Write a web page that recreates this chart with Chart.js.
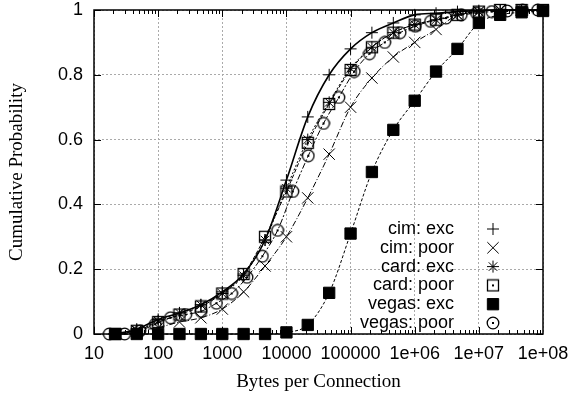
<!DOCTYPE html>
<html>
<head>
<meta charset="utf-8">
<script src="https://cdn.jsdelivr.net/npm/chart.js@4.4.0/dist/chart.umd.min.js"></script>
<style>
  html, body { margin: 0; padding: 0; background: #fff; }
</style>
</head>
<body>
<canvas id="cdf" width="573" height="397"></canvas>
<script>
// sample points, one third of a decade apart (cim / card / vegas exc)
const xThird = [21.5, 46.4, 100, 215, 464, 1000, 2150, 4640, 10000, 21500, 46400,
  1e5, 2.15e5, 4.64e5, 1e6, 2.15e6, 4.64e6, 1e7, 2.15e7, 4.64e7, 1e8];
// vegas poor is sampled more densely
const xRoot3 = [17.3, 30, 52, 90, 156, 270, 468, 810, 1400, 2430, 4210, 7290, 12600,
  21900, 37900, 65600, 114000, 197000, 341000, 591000, 1.02e6, 1.77e6, 3.07e6,
  5.31e6, 9.2e6, 1.59e7, 2.76e7, 4.78e7, 8.28e7];

const cimExc   = [0, 0.015, 0.045, 0.065, 0.09, 0.13, 0.185, 0.29, 0.475, 0.67, 0.80,
  0.88, 0.93, 0.96, 0.985, 0.99, 0.995, 0.998, 1, 1, 1];
const cimPoor  = [0, 0.01, 0.02, 0.037, 0.05, 0.077, 0.13, 0.21, 0.30, 0.42, 0.555,
  0.70, 0.79, 0.855, 0.90, 0.94, 0.985, 0.995, 1, 1, 1];
const cardExc  = [0, 0.012, 0.04, 0.065, 0.09, 0.125, 0.18, 0.29, 0.45, 0.60, 0.715,
  0.82, 0.885, 0.93, 0.955, 0.97, 0.985, 0.995, 1, 1, 1];
const cardPoor = [0, 0.01, 0.037, 0.06, 0.085, 0.125, 0.185, 0.30, 0.44, 0.59, 0.71,
  0.815, 0.885, 0.93, 0.955, 0.97, 0.985, 0.995, 1, 1, 1];
const vegasExc = [0, 0, 0, 0, 0, 0, 0, 0, 0.005, 0.028, 0.127, 0.31, 0.50, 0.63, 0.72,
  0.81, 0.88, 0.96, 0.985, 0.993, 0.997];
const vegasPoor = [0, 0, 0.01, 0.03, 0.05, 0.06, 0.07, 0.095, 0.125, 0.175, 0.24, 0.32,
  0.44, 0.55, 0.65, 0.73, 0.81, 0.865, 0.90, 0.93, 0.95, 0.965, 0.975, 0.985, 0.99,
  0.995, 0.997, 0.999, 1];

const seriesLabels = ['cim: exc', 'cim: poor', 'card: exc', 'card: poor', 'vegas: exc', 'vegas: poor'];
const xTickValues = [10, 100, 1000, 1e4, 1e5, 1e6, 1e7, 1e8];
const xTickLabels = ['10', '100', '1000', '10000', '100000', '1e+06', '1e+07', '1e+08'];
const yTickValues = [0, 0.2, 0.4, 0.6, 0.8, 1];
const yTickLabels = ['0', '0.2', '0.4', '0.6', '0.8', '1'];

const SANS = "'Liberation Sans', Arial, sans-serif";
const SERIF = "'Liberation Serif', 'Times New Roman', serif";

// gnuplot style hollow markers with a dot in the middle
function dotMarker(shape) {
  const c = document.createElement('canvas');
  c.width = 14; c.height = 14;
  const g = c.getContext('2d');
  g.strokeStyle = '#000';
  g.lineWidth = 1.3;
  if (shape === 'box') {
    g.strokeRect(1.5, 1.5, 11, 11);
  } else {
    g.beginPath();
    g.arc(7, 7, 5.8, 0, Math.PI * 2);
    g.stroke();
  }
  g.fillStyle = '#000';
  g.fillRect(6, 6, 2, 2);
  return c;
}

const pts = (xs, ys) => xs.map((x, i) => ({ x: x, y: ys[i] }));

function series(label, xs, ys, style) {
  return Object.assign({
    label: label,
    data: pts(xs, ys),
    borderColor: '#000',
    pointBorderColor: '#000',
    pointBackgroundColor: 'transparent',
    pointBorderWidth: 1,
    borderWidth: 1,
    cubicInterpolationMode: 'monotone',
    clip: false
  }, style);
}

const datasets = [
  series(seriesLabels[0], xThird, cimExc, { pointStyle: 'cross', pointRadius: 6, borderWidth: 1.6 }),
  series(seriesLabels[1], xThird, cimPoor, { pointStyle: 'crossRot', pointRadius: 8, borderDash: [6, 2, 1, 2] }),
  series(seriesLabels[2], xThird, cardExc, { pointStyle: 'star', pointRadius: 6, borderDash: [2, 2] }),
  series(seriesLabels[3], xThird, cardPoor, { pointStyle: dotMarker('box'), pointRadius: 6, borderDash: [4, 2] }),
  series(seriesLabels[4], xThird, vegasExc, { pointStyle: 'rect', pointRadius: 8, pointBackgroundColor: '#000', borderDash: [3, 2] }),
  series(seriesLabels[5], xRoot3, vegasPoor, { pointStyle: dotMarker('circle'), pointRadius: 6, borderDash: [6, 2, 2, 2] })
];

// frame, inner tick marks and the key, drawn gnuplot style
const gnuplotFrame = {
  id: 'gnuplotFrame',
  afterDraw(chart) {
    const { ctx, chartArea: a, scales: { x, y } } = chart;
    ctx.save();
    ctx.strokeStyle = '#000';
    ctx.lineWidth = 1;
    const line = (x1, y1, x2, y2) => {
      ctx.beginPath(); ctx.moveTo(x1, y1); ctx.lineTo(x2, y2); ctx.stroke();
    };
    for (let d = 10; d < 1e8; d *= 10) {
      for (let k = 1; k < 10; k++) {
        const px = Math.round(x.getPixelForValue(d * k)) + 0.5;
        const len = k === 1 ? 7 : 4;
        line(px, a.bottom, px, a.bottom - len);
        line(px, a.top, px, a.top + len);
      }
    }
    yTickValues.forEach(v => {
      const py = Math.round(y.getPixelForValue(v)) + 0.5;
      line(a.left, py, a.left + 7, py);
      line(a.right, py, a.right - 7, py);
    });
    ctx.lineWidth = 1.5;
    ctx.strokeRect(a.left, a.top, a.right - a.left, a.bottom - a.top);

    // key
    ctx.font = '18px ' + SANS;
    ctx.fillStyle = '#000';
    ctx.textAlign = 'right';
    ctx.textBaseline = 'middle';
    chart.data.datasets.forEach((ds, i) => {
      const ry = a.bottom - 105 + i * 18.8;
      ctx.fillText(ds.label, a.right - 89, ry);
      ctx.lineWidth = 1;
      ctx.setLineDash([]);
      ctx.fillStyle = ds.pointBackgroundColor === '#000' ? '#000' : 'rgba(0,0,0,0)';
      Chart.helpers.drawPoint(ctx, { pointStyle: ds.pointStyle, radius: ds.pointRadius, borderWidth: 1 }, a.right - 50, ry);
      ctx.fillStyle = '#000';
    });
    ctx.restore();
  }
};

new Chart(document.getElementById('cdf'), {
  type: 'line',
  data: { datasets: datasets },
  plugins: [gnuplotFrame],
  options: {
    responsive: false,
    devicePixelRatio: 1,
    animation: false,
    layout: { padding: 0 },
    plugins: { legend: { display: false }, tooltip: { enabled: false } },
    scales: {
      x: {
        type: 'logarithmic',
        min: 10,
        max: 1e8,
        afterBuildTicks: s => { s.ticks = xTickValues.map(v => ({ value: v })); },
        afterFit: s => { s.height = 63; s.paddingLeft = 0; s.paddingRight = 30; },
        ticks: {
          autoSkip: false,
          maxRotation: 0,
          padding: 9,
          color: '#000',
          font: { family: SANS, size: 18 },
          callback: (v, i) => xTickLabels[i]
        },
        grid: { color: '#aaa', lineWidth: 1, drawTicks: false },
        border: { display: false, dash: [2, 2] },
        title: {
          display: true,
          text: 'Bytes per Connection',
          color: '#000',
          font: { family: SERIF, size: 19 },
          padding: { top: 0, bottom: 4 }
        }
      },
      y: {
        min: 0,
        max: 1,
        afterBuildTicks: s => { s.ticks = yTickValues.map(v => ({ value: v })); },
        afterFit: s => { s.width = 94; s.paddingTop = 10; s.paddingBottom = 0; },
        ticks: {
          padding: 11,
          color: '#000',
          font: { family: SANS, size: 18 },
          callback: (v, i) => yTickLabels[i]
        },
        grid: { color: '#aaa', lineWidth: 1, drawTicks: false },
        border: { display: false, dash: [2, 2] },
        title: {
          display: true,
          text: 'Cumulative Probability',
          color: '#000',
          font: { family: SERIF, size: 19 },
          padding: { top: 6, bottom: 0 }
        }
      }
    }
  }
});
</script>
</body>
</html>
